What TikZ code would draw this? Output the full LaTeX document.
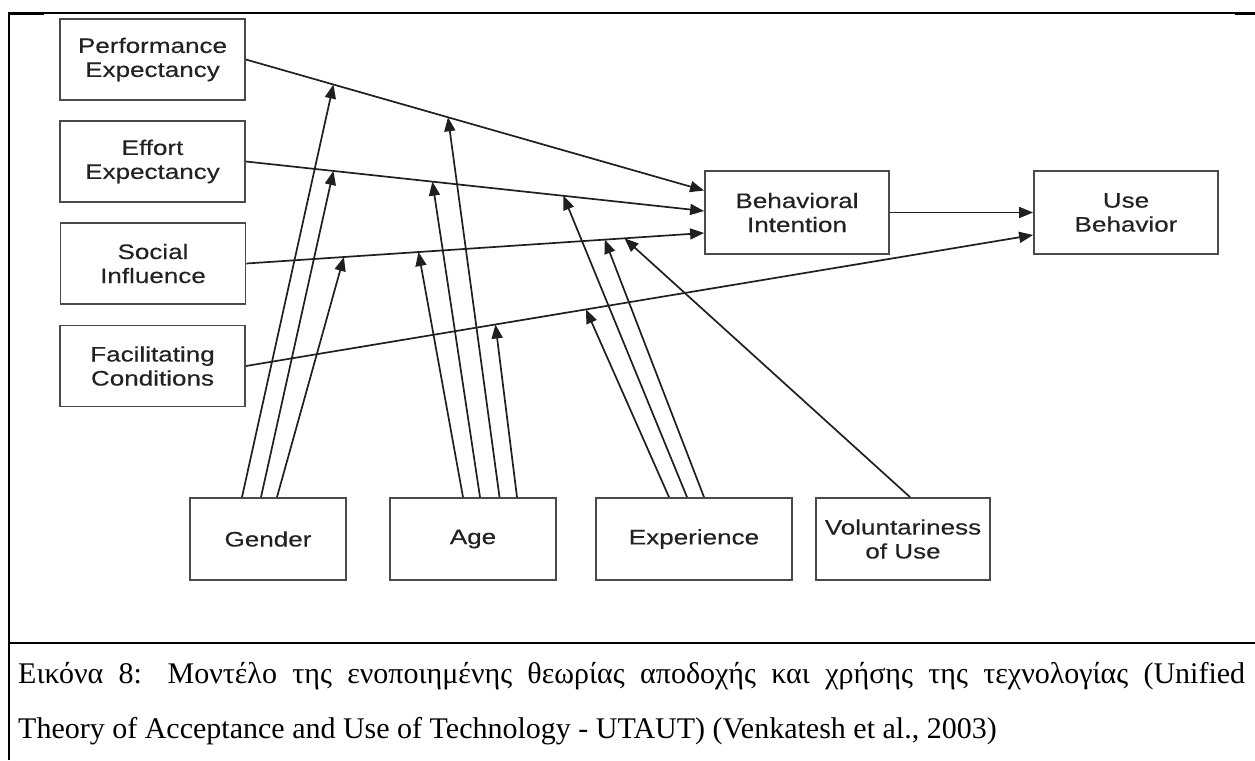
\documentclass[tikz,border=0pt]{standalone}
\usepackage{fontspec}
\setmainfont{Liberation Serif}
\newfontfamily\lblfont[FakeStretch=1.24,FakeBold=0.3]{Liberation Sans}
\usetikzlibrary{arrows.meta}
\definecolor{boxgray}{HTML}{4A4A4A}
\definecolor{txtgray}{HTML}{222222}
\begin{document}
\begin{tikzpicture}[x=1pt,y=-1pt,
  box/.style={draw=boxgray, line width=1.8pt, inner sep=0pt, align=center,
    text=txtgray, font=\lblfont\fontsize{21}{24}\selectfont},
  sidebox/.style={box, minimum width=185pt, minimum height=81pt},
  arr/.style={-{Triangle[length=14pt,width=11pt]}, line width=1.7pt, draw=black!88},
  mod/.style={arr},
  captxt/.style={anchor=base west, inner sep=0pt, font=\fontsize{30}{30}\selectfont}]
\useasboundingbox (0,0) rectangle (1255,760);

% table frame
\draw[line width=1.6pt] (9,760) -- (9,13) -- (1255,13);
\fill (8,12) rectangle (44,15);
\fill (1235,12) rectangle (1255,15);
\draw[line width=2.5pt] (9,643) -- (1255,643);

% constructs
\node[sidebox] (pe) at (152.5,59.5) {Performance\\Expectancy};
\node[sidebox] (ee) at (152.5,161.5) {Effort\\Expectancy};
\node[sidebox] (si) at (153,263.5) {Social\\Influence};
\node[sidebox] (fc) at (152.5,366) {Facilitating\\Conditions};
\node[box, minimum width=184pt, minimum height=83pt] (bi) at (797,212.5) {Behavioral\\Intention};
\node[box, minimum width=184pt, minimum height=83pt] (ub) at (1126,212.5) {Use\\Behavior};

% moderators
\node[box, minimum width=156pt, minimum height=82pt] (gender) at (268,539) {Gender};
\node[box, minimum width=166pt, minimum height=82pt] (age) at (473,539) {Age};
\node[box, minimum width=196pt, minimum height=82pt] (exp) at (694,539) {Experience};
\node[box, minimum width=174pt, minimum height=82pt] (vol) at (903,539) {Voluntariness\\of Use};

% direct effects
\draw[arr] (pe.east) -- coordinate[pos=0.191] (peG) coordinate[pos=0.441] (peA)
  ([yshift=22pt]bi.west);
\draw[arr] (ee.east) -- coordinate[pos=0.191] (eeG) coordinate[pos=0.407] (eeA)
  coordinate[pos=0.693] (eeE) ([yshift=1.5pt]bi.west);
\draw[arr] (si.east) -- coordinate[pos=0.213] (siG) coordinate[pos=0.376] (siA)
  coordinate[pos=0.783] (siE) coordinate[pos=0.826] (siV) ([yshift=-20.5pt]bi.west);
\draw[arr] (fc.east) -- coordinate[pos=0.317] (fcA) coordinate[pos=0.432] (fcE)
  ([yshift=-22.5pt]ub.west);
\draw[arr] (bi.east) -- (ub.west);

% moderating effects
\draw[mod] ([xshift=-26pt]gender.north) -- (peG);
\draw[mod] ([xshift=-7pt]gender.north) -- (eeG);
\draw[mod] ([xshift=9pt]gender.north) -- (siG);

\draw[mod] ([xshift=-10pt]age.north) -- (siA);
\draw[mod] ([xshift=7pt]age.north) -- (eeA);
\draw[mod] ([xshift=26.5pt]age.north) -- (peA);
\draw[mod] ([xshift=44pt]age.north) -- (fcA);

\draw[mod] ([xshift=-25pt]exp.north) -- (fcE);
\draw[mod] ([xshift=-7pt]exp.north) -- (eeE);
\draw[mod] ([xshift=10pt]exp.north) -- (siE);

\draw[mod] ([xshift=7pt]vol.north) -- (siV);

% caption: first line justified to the cell width, last line ragged
\node[captxt] (cap1) at (18,683) {\makebox[1227pt][s]{Εικόνα 8: Μοντέλο της ενοποιημένης θεωρίας αποδοχής και χρήσης της τεχνολογίας (Unified}};
\node[captxt] (cap2) at (18,738) {Theory of Acceptance and Use of Technology - UTAUT) (Venkatesh et al., 2003)};
\end{tikzpicture}
\end{document}
